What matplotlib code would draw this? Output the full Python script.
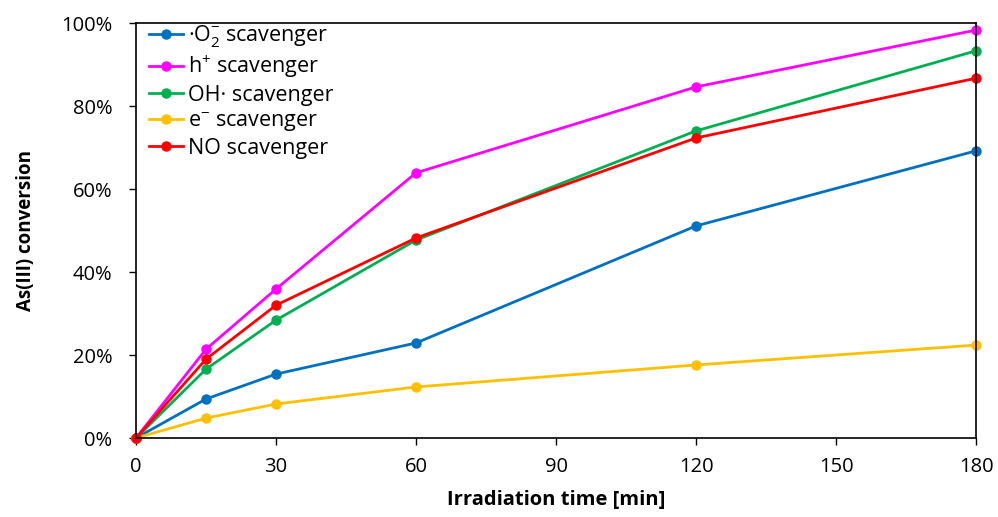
import matplotlib
matplotlib.use("Agg")
import matplotlib.pyplot as plt
from matplotlib.ticker import FuncFormatter

plt.rcParams['font.family'] = ['Open Sans', 'DejaVu Sans']
plt.rcParams['mathtext.default'] = 'regular'

time = [0, 15, 30, 60, 120, 180]
o2 = [0, 9.4, 15.4, 22.9, 51.1, 69.2]
hplus = [0, 21.4, 35.9, 63.9, 84.6, 98.3]
oh = [0, 16.6, 28.4, 47.7, 74.0, 93.3]
eminus = [0, 4.8, 8.2, 12.3, 17.6, 22.4]
no = [0, 19.0, 32.0, 48.2, 72.3, 86.7]

labels = ["·O$_2^{-}$ scavenger", "h$^{+}$ scavenger", "OH· scavenger",
          "e$^{-}$ scavenger", "NO scavenger"]
series = [o2, hplus, oh, eminus, no]
colors = ["#0070C0", "#FF00FF", "#00B050", "#FFC000", "#FF0000"]

fig = plt.figure(figsize=(9.98, 5.17), dpi=100)
ax = fig.add_axes([0.1363, 0.1528, 0.978 - 0.1363, 0.9555 - 0.1528])

for s, c, l in zip(series, colors, labels):
    ax.plot(time, s, color=c, marker='o', markersize=6.5, linewidth=2, label=l, clip_on=False)

ax.set_xlim(0, 180)
ax.set_ylim(0, 100)
ax.set_xticks([0, 30, 60, 90, 120, 150, 180])
ax.set_yticks([0, 20, 40, 60, 80, 100])
ax.yaxis.set_major_formatter(FuncFormatter(lambda v, p: f"{int(v)}%"))
ax.tick_params(direction='out', length=5, width=1, labelsize=14.5, pad=6)
ax.tick_params(axis='x', pad=9)
ax.tick_params(axis='y', pad=12)
for sp in ax.spines.values():
    sp.set_linewidth(1.2)
    sp.set_color('black')

ax.set_xlabel("Irradiation time [min]", fontsize=14.5, fontweight='bold', labelpad=9)
ax.set_ylabel("As(III) conversion", fontsize=13.5, fontweight='bold', labelpad=18)

ax.legend(loc='upper left', frameon=False, fontsize=15.5, handlelength=1.6,
          handletextpad=0.2, labelspacing=0.2, borderaxespad=0.2,
          bbox_to_anchor=(0.0, 1.03))

fig.savefig("out.png", dpi=100)
